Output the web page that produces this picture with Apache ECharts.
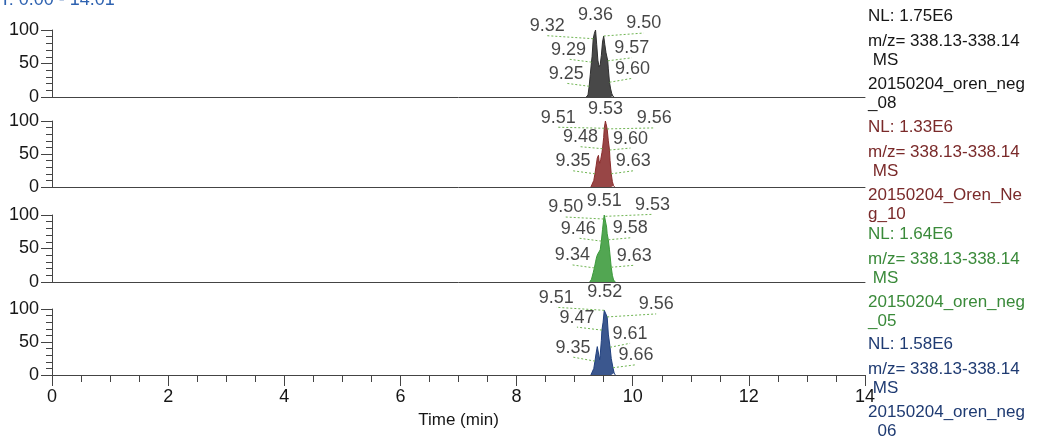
<!DOCTYPE html>
<html>
<head>
<meta charset="utf-8">
<script src="https://cdn.jsdelivr.net/npm/echarts@6/dist/echarts.min.js"></script>
<style>
html,body{margin:0;padding:0;background:#fff;}
#c{width:1041px;height:438px;}
</style>
</head>
<body>
<div id="c"></div>
<script>
// ---------- DATA ----------
const xTicks = [0, 2, 4, 6, 8, 10, 12, 14];
const yTicks = [0, 50, 100];

// Panel 1 (black) chromatogram
const times1 = [9.20, 9.23, 9.25, 9.27, 9.29, 9.30, 9.32, 9.34, 9.36, 9.38, 9.40, 9.42, 9.44, 9.46, 9.48, 9.50, 9.52, 9.54, 9.57, 9.58, 9.60, 9.62, 9.64, 9.66, 9.68];
const vals1  = [0, 3, 16, 34, 52, 60, 87, 95, 100, 78, 55, 45, 48, 62, 82, 91, 78, 66, 54, 42, 22, 12, 5, 1, 0];
// Panel 2 (red)
const times2 = [9.28, 9.31, 9.33, 9.35, 9.37, 9.39, 9.41, 9.42, 9.43, 9.45, 9.47, 9.48, 9.50, 9.51, 9.53, 9.54, 9.56, 9.58, 9.60, 9.61, 9.63, 9.65, 9.67, 9.69];
const vals2  = [0, 3, 10, 20, 32, 44, 48, 40, 36, 42, 52, 58, 75, 89, 100, 96, 88, 70, 56, 40, 20, 8, 2, 0];
// Panel 3 (green)
const times3 = [9.26, 9.29, 9.32, 9.34, 9.36, 9.38, 9.40, 9.42, 9.44, 9.46, 9.48, 9.50, 9.51, 9.52, 9.53, 9.55, 9.56, 9.58, 9.60, 9.63, 9.65, 9.67, 9.70];
const vals3  = [0, 4, 14, 21, 30, 38, 42, 40, 48, 61, 78, 94, 100, 99, 98, 82, 72, 63, 48, 22, 10, 3, 0];
// Panel 4 (blue)
const times4 = [9.28, 9.31, 9.33, 9.35, 9.37, 9.39, 9.40, 9.41, 9.42, 9.43, 9.44, 9.46, 9.47, 9.49, 9.51, 9.52, 9.54, 9.56, 9.58, 9.61, 9.63, 9.66, 9.68, 9.70];
const vals4  = [0, 3, 10, 21, 33, 43, 46, 40, 28, 23, 30, 52, 68, 80, 98, 100, 95, 88, 62, 42, 25, 11, 3, 0];

// Retention-time annotations (time, intensity on the trace)
const annT1 = [9.25, 9.29, 9.32, 9.36, 9.50, 9.57, 9.60];
const annV1 = [16, 52, 87, 100, 91, 54, 22];
const annT2 = [9.35, 9.48, 9.51, 9.53, 9.56, 9.60, 9.63];
const annV2 = [20, 58, 89, 100, 88, 56, 20];
const annT3 = [9.34, 9.46, 9.50, 9.51, 9.53, 9.58, 9.63];
const annV3 = [21, 61, 94, 100, 98, 63, 22];
const annT4 = [9.35, 9.47, 9.51, 9.52, 9.56, 9.61, 9.66];
const annV4 = [21, 68, 98, 100, 88, 42, 11];

// Side legend texts
const info1 = ["NL: 1.75E6", "m/z= 338.13-338.14", "\u00a0MS", "20150204_oren_neg", "_08"];
const info2 = ["NL: 1.33E6", "m/z= 338.13-338.14", "\u00a0MS", "20150204_Oren_Ne", "g_10"];
const info3 = ["NL: 1.64E6", "m/z= 338.13-338.14", "\u00a0MS", "20150204_oren_neg", "_05"];
const info4 = ["NL: 1.58E6", "m/z= 338.13-338.14", "\u00a0MS", "20150204_oren_neg", "_06"];
const headerText = "RT: 0.00 - 14.01";
const xName = "Time (min)";

// ---------- LAYOUT (pixel offsets of label feet from the annotated point) ----------
const off1 = [[-23,-3],[-23,-3],[-46,-3],[0,-5],[40,-3],[24,-3],[23,-4]];
const off2 = [[-22,-3],[-22,-2],[-46,-1],[0,-2],[47,-1],[21,-2],[22,-3]];
const off3 = [[-22,-3],[-23,-3],[-38,-2],[0,-4],[47,-2],[22,-2],[23,-2]];
const off4 = [[-22,-4],[-25,-3],[-48,-3],[0,-7],[49,-3],[20,-4],[23,-3]];

const FONT = '"Liberation Sans", Arial, Helvetica, sans-serif';
const gridLeft = 52, gridRight = 1041 - 865;
const tops = [30, 121, 215, 309];
const heights = [67, 66, 67, 66];
const colors = ['#2f2f2f', '#8a2c2c', '#3a9a3a', '#20407e'];
const infoColors = ['#161616', '#7a2a2a', '#3a8a3a', '#1f3b72'];
const TEXT = '#161616';

const panels = [
  {t: times1, v: vals1, at: annT1, av: annV1, off: off1, info: info1},
  {t: times2, v: vals2, at: annT2, av: annV2, off: off2, info: info2},
  {t: times3, v: vals3, at: annT3, av: annV3, off: off3, info: info3},
  {t: times4, v: vals4, at: annT4, av: annV4, off: off4, info: info4}
];

const chart = echarts.init(document.getElementById('c'), null, {renderer: 'canvas'});
const gridW = 1041 - gridLeft - gridRight;
const pxPerMin = gridW / 14;

const grids = [], xAxes = [], yAxes = [], series = [], graphics = [];
panels.forEach((p, i) => {
  grids.push({left: gridLeft, right: gridRight, top: tops[i], height: heights[i]});
  const last = i === panels.length - 1;
  xAxes.push({
    gridIndex: i, type: 'value', min: 0, max: 14, interval: 2,
    axisLine: {show: true, onZero: false, lineStyle: {color: '#444', width: 1}},
    axisTick: {show: last, length: 11, lineStyle: {color: '#444'}},
    minorTick: {show: last, splitNumber: 4, length: 7, lineStyle: {color: '#444'}},
    axisLabel: {show: last, fontSize: 18, color: TEXT, fontFamily: FONT, margin: 13,
      formatter: v => xTicks.indexOf(v) >= 0 ? String(v) : ''},
    splitLine: {show: false},
    name: last ? xName : '', nameLocation: 'middle', nameGap: 37,
    nameTextStyle: {fontSize: 17, color: TEXT, fontFamily: FONT}
  });
  yAxes.push({
    gridIndex: i, type: 'value', min: 0, max: 100, interval: 50,
    axisLine: {show: true, lineStyle: {color: '#444', width: 1}},
    axisTick: {show: true, length: 11, lineStyle: {color: '#444'}},
    minorTick: {show: true, splitNumber: 5, length: 6, lineStyle: {color: '#444'}},
    axisLabel: {fontSize: 18, color: TEXT, fontFamily: FONT, margin: 13,
      formatter: v => yTicks.indexOf(v) >= 0 ? String(v) : ''},
    splitLine: {show: false}
  });
  series.push({
    type: 'line', xAxisIndex: i, yAxisIndex: i,
    data: p.t.map((t, k) => [t, p.v[k]]),
    symbol: 'none', smooth: false, clip: false,
    lineStyle: {color: colors[i], width: 1},
    areaStyle: {color: colors[i], opacity: 0.88},
    z: 3
  });
  const pxPerUnit = heights[i] / 100;
  const feet = p.at.map((t, k) => [t + p.off[k][0] / pxPerMin, p.av[k] - p.off[k][1] / pxPerUnit, t]);
  series.push({
    type: 'lines', coordinateSystem: 'cartesian2d', xAxisIndex: i, yAxisIndex: i,
    clip: false, silent: true, z: 4,
    lineStyle: {color: '#6fb552', width: 1, type: [2, 2], opacity: 1},
    data: p.at.map((t, k) => ({coords: [[t, p.av[k]], [feet[k][0], feet[k][1]]]}))
      .filter((d, k) => p.off[k][0] !== 0)
  });
  series.push({
    type: 'scatter', xAxisIndex: i, yAxisIndex: i, clip: false, z: 5,
    symbolSize: 1, itemStyle: {color: 'rgba(0,0,0,0)'},
    data: feet,
    label: {show: true, position: 'top', distance: 0, offset: [0, 3], fontSize: 18, color: TEXT,
      fontFamily: FONT, formatter: q => q.value[2].toFixed(2)},
    labelLayout: {hideOverlap: false}
  });
  // side info text
  const blockTop = [17, 128, 235, 345][i];
  const lineOffsets = [0, 25, 44, 68, 87];
  p.info.forEach((s, k) => {
    graphics.push({
      type: 'text', left: 868, top: blockTop + lineOffsets[k] - 9,
      style: {text: s, fill: infoColors[i], font: '17px ' + FONT}
    });
  });
});

graphics.push({
  type: 'text', left: -13, top: -9,
  style: {text: headerText, fill: '#2e62b0', font: '18px ' + FONT}
});

chart.setOption({
  backgroundColor: '#fff',
  animation: false,
  grid: grids, xAxis: xAxes, yAxis: yAxes, series: series,
  graphic: graphics
});
</script>
</body>
</html>
